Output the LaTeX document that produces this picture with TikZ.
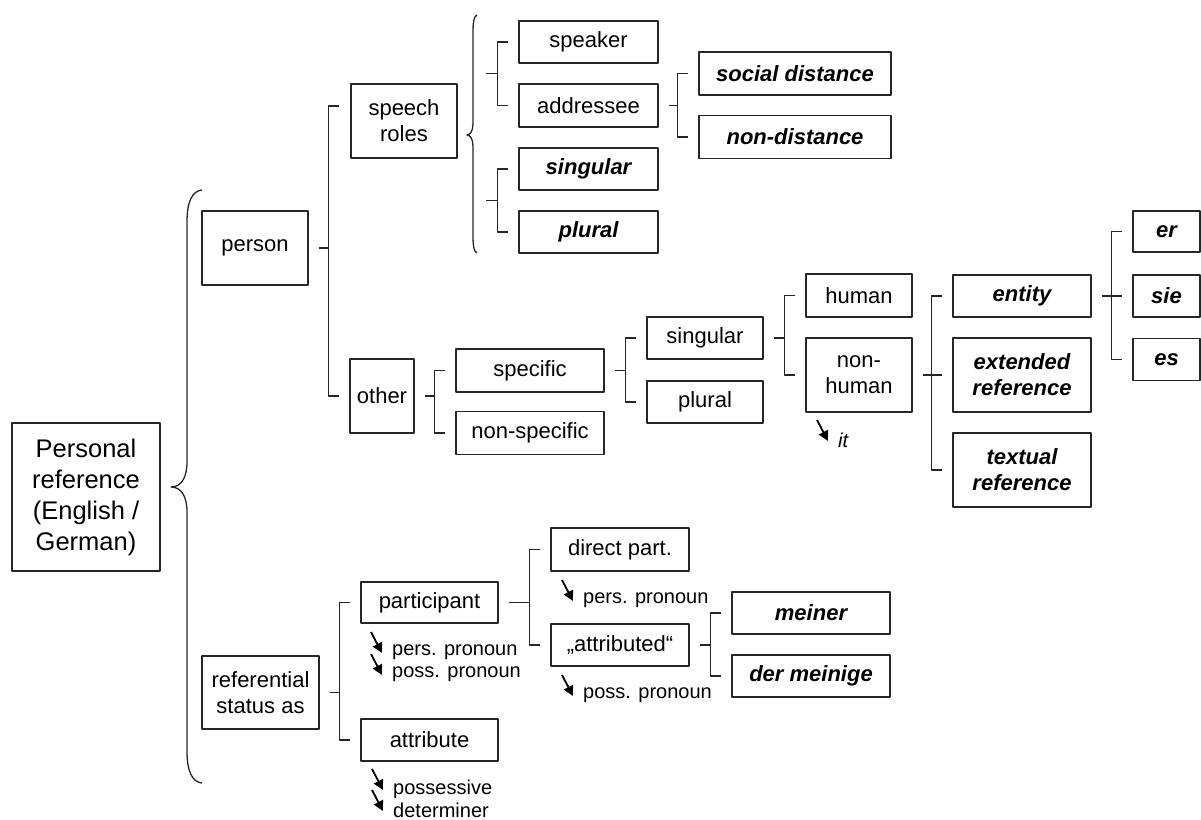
\documentclass[tikz,border=0pt]{standalone}
\usepackage{fontspec}
\setmainfont{Liberation Sans}
\usetikzlibrary{calc,arrows.meta}
\tikzset{
  box/.style={draw=black!85,line width=1.3pt,inner sep=0pt,align=center,font=\fontsize{22}{26}\selectfont},
  keybox/.style={box,font=\fontsize{22}{26}\selectfont\bfseries\itshape},
  wh/.style 2 args={minimum width=#1pt,minimum height=#2pt},
  hint/.style={anchor=west,inner sep=0pt,font=\fontsize{20}{22}\selectfont},
  pointer/.style={line width=1.8pt,-{Triangle[length=10pt,width=10pt]}},
  branch/.style={line width=1.3pt,draw=black!85}
}
\begin{document}
\begin{tikzpicture}[x=1pt,y=-1pt,line join=round]
\useasboundingbox (0,0) rectangle (1201,819);
% root and first level
\node[box,wh={148}{148},font=\fontsize{25.5}{31}\selectfont] (main) at (86,497) {Personal\\reference\\(English /\\German)};
\node[box,wh={106}{74}] (person) at (255,248) {person};
\node[box,wh={117}{73}] (status) at (260.5,692.5) {referential\\status as};
% person
\node[box,wh={106}{74}] (roles) at (404,121) {speech\\roles};
\node[box,wh={64}{74}] (other) at (382,396) {other};
\node[box,wh={139}{42}] (speaker) at (588.5,42) {speaker};
\node[box,wh={139}{43}] (addressee) at (588.5,105.5) {addressee};
\node[keybox,wh={139}{42}] (singB) at (588.5,169) {singular};
\node[keybox,wh={139}{42}] (plurB) at (588.5,232) {plural};
\node[keybox,wh={192}{43}] (social) at (795,73.5) {social distance};
\node[keybox,wh={192}{43}] (nondist) at (795,137) {non-distance};
\node[box,wh={148}{43}] (specific) at (530,370.5) {specific};
\node[box,wh={148}{43}] (nonspecific) at (530,433) {non-specific};
\node[box,wh={116}{42}] (sing) at (705,338) {singular};
\node[box,wh={116}{42}] (plur) at (705,402) {plural};
\node[box,wh={106}{43}] (human) at (859,295.5) {human};
\node[box,wh={106}{74}] (nonhuman) at (859,375) {non-\\human};
\node[keybox,wh={138}{42}] (entity) at (1022,296) {entity};
\node[keybox,wh={138}{74}] (extended) at (1022,375) {extended\\reference};
\node[keybox,wh={138}{74}] (textual) at (1022,470) {textual\\reference};
\node[keybox,wh={67}{41}] (er) at (1166.5,231.5) {er};
\node[keybox,wh={67}{42}] (sie) at (1166.5,296) {sie};
\node[keybox,wh={67}{42}] (es) at (1166.5,359.5) {es};
% referential status
\node[box,wh={137}{41}] (participant) at (429.5,602.5) {participant};
\node[box,wh={137}{42}] (attribute) at (429.5,740) {attribute};
\node[box,wh={138}{43}] (direct) at (620,549.5) {direct part.};
\node[box,wh={138}{42}] (attributed) at (620,645) {„attributed“};
\node[keybox,wh={158}{42}] (meiner) at (811,613) {meiner};
\node[keybox,wh={158}{42}] (dermeinige) at (811,676) {der meinige};
% notes
\node[hint] (pp1) at (392,652) {pers. pronoun};
\node[hint] (pp2) at (392,674) {poss. pronoun};
\node[hint] (pp3) at (583,600) {pers. pronoun};
\node[hint] (pp4) at (583,695) {poss. pronoun};
\node[hint] (pp5) at (393,789) {possessive};
\node[hint] (pp6) at (393,810) {determiner};
\node[hint,font=\fontsize{20}{22}\selectfont\itshape] (pp7) at (838,440) {it};
\foreach \n in {1,...,7}
  \draw[pointer] ([shift={(-21,-20)}]pp\n.west) -- ([shift={(-10,1)}]pp\n.west);
% braces
\path
  (202,190) coordinate (topA)
  (171,487) coordinate (tipA)
  (202,783) coordinate (botA)
  (477,15) coordinate (topB)
  (467,135) coordinate (tipB)
  (477,253) coordinate (botB)
  ;
\draw[branch] (topA) .. controls (192,191) and (187,202) .. (187,222) -- (187,462)
  .. controls (187,478) and (181,487) .. (tipA) .. controls (181,487) and (187,496) .. (187,512)
  -- (187,751) .. controls (187,771) and (192,782) .. (botA);
\draw[branch] (topB) .. controls (474,16) and (473,22) .. (473,32) -- (473,124)
  .. controls (473,131) and (470,135) .. (tipB) .. controls (470,135) and (473,139) .. (473,146)
  -- (473,236) .. controls (473,246) and (474,252) .. (botB);
% brackets
\path ([yshift=15]roles.west) coordinate (rolesin);
\draw[branch] ([xshift=-11]rolesin) -| ([xshift=-21]other.west) -- ([xshift=-10]other.west);
\draw[branch] ([xshift=10]person.east) -- ([xshift=-21]other.west |- person.east);
\foreach \a/\b in {speaker/addressee,singB/plurB,social/nondist,specific/nonspecific,sing/plur,
    human/nonhuman,entity/textual,er/es,participant/attribute,direct/attributed,meiner/dermeinige}
  \draw[branch] ([xshift=-10]\a.west) -| ([xshift=-21]\b.west) -- ([xshift=-10]\b.west);
\foreach \p/\c in {addressee/social,other/specific,specific/sing,sing/human,
    status/participant,participant/direct,attributed/meiner}
  \draw[branch] ([xshift=10]\p.east) -- ([xshift=-21]\c.west |- \p.east);
\foreach \p/\c in {nonhuman/extended,entity/sie}
  \draw[branch] ([xshift=10]\p.east) -- ([xshift=-10]\c.west |- \p.east);
\draw[branch] ($(speaker.west)!.5!(addressee.west)+(-32,0)$) -- ++(11,0);
\draw[branch] ($(singB.west)!.5!(plurB.west)+(-32,0)$) -- ++(11,0);
\end{tikzpicture}
\end{document}
